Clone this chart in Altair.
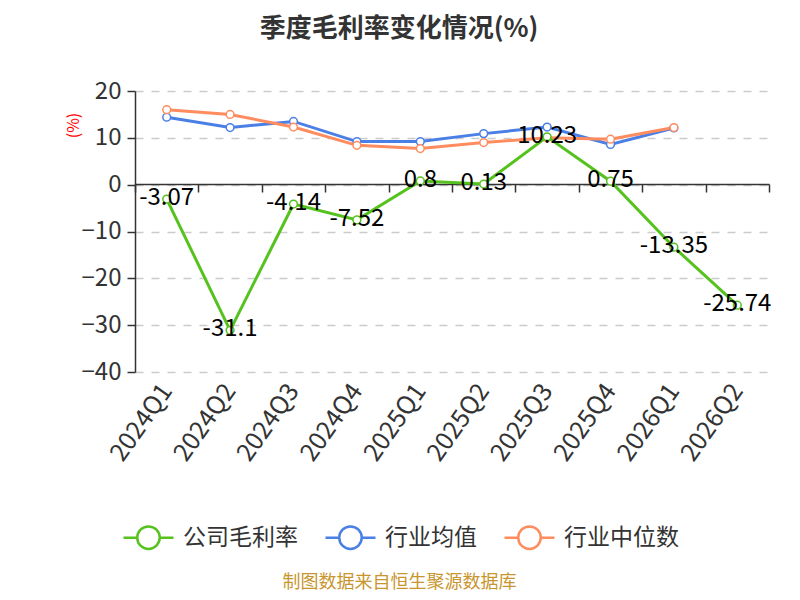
import altair as alt
import pandas as pd

quarters = ["2024Q1", "2024Q2", "2024Q3", "2024Q4", "2025Q1",
            "2025Q2", "2025Q3", "2025Q4", "2026Q1", "2026Q2"]
company = [-3.07, -31.1, -4.14, -7.52, 0.8, 0.13, 10.23, 0.75, -13.35, -25.74]
industry_avg = [14.4, 12.2, 13.5, 9.2, 9.2, 10.9, 12.3, 8.6, 12.1, None]
industry_median = [16.0, 15.0, 12.3, 8.4, 7.7, 9.0, 10.0, 9.7, 12.2, None]

series_names = ["公司毛利率", "行业均值", "行业中位数"]
series_colors = ["#55c21e", "#4a7fe6", "#ff8c5e"]

rows = []
for name, vals in zip(series_names, [company, industry_avg, industry_median]):
    for q, v in zip(quarters, vals):
        if v is not None:
            rows.append({"quarter": q, "value": v, "series": name, "label": str(v)})
df = pd.DataFrame(rows)

FONT = "Noto Sans CJK SC"

xscale = alt.Scale(type="band", domain=quarters, paddingInner=0, paddingOuter=0)
yscale = alt.Scale(domain=[-40, 20], nice=False, zero=False)
cscale = alt.Scale(domain=series_names, range=series_colors)

y_axis = alt.Axis(values=[-40, -30, -20, -10, 0, 10, 20], title="(%)",
                  titleColor="red", titleFontSize=16, titleFontWeight="normal",
                  titleAngle=270, titleX=-62, titleY=34, titleAlign="center",
                  titleBaseline="middle",
                  labelFontSize=24, labelColor="#333333", labelPadding=6,
                  domain=True, domainColor="#333333", domainWidth=1.5,
                  ticks=True, tickColor="#333333", tickSize=8, tickWidth=1.5,
                  grid=True, gridColor="#cccccc", gridDash=[8, 8], gridWidth=1.5)

x_label_axis = alt.Axis(domain=False, ticks=False, grid=False,
                        labelAngle=305, labelAlign="right", labelBaseline="middle",
                        labelFontSize=25, labelColor="#333333", labelPadding=14,
                        title="制图数据来自恒生聚源数据库", titleColor="#c8962e",
                        titleFontSize=18, titleFontWeight="normal",
                        titleX=264, titleY=210, titleAlign="center",
                        titleBaseline="middle")

x_tick_axis = alt.Axis(orient="bottom", offset=-188, labels=False, title=None,
                       grid=False, domain=True, domainColor="#333333",
                       domainWidth=1.5, ticks=True, tickColor="#333333",
                       tickSize=8, tickWidth=1.5, tickBand="extent")

legend = alt.Legend(title=None, orient="none", legendX=-13, legendY=420,
                    direction="horizontal",
                    symbolType="M-1,0L-0.45,0M0.45,0L1,0M-0.45,0A0.45,0.45,0,1,0,0.45,0A0.45,0.45,0,1,0,-0.45,0",
                    symbolSize=2500, symbolStrokeWidth=2.5, symbolFillColor="white",
                    labelFontSize=23, labelColor="#333333", labelOffset=8,
                    columnPadding=22)

base = alt.Chart(df)
industry = base.transform_filter(alt.datum.series != "公司毛利率")
comp = base.transform_filter(alt.datum.series == "公司毛利率")

ind_line = industry.mark_line(strokeWidth=3).encode(
    x=alt.X("quarter:N", scale=xscale, axis=x_label_axis, sort=quarters),
    y=alt.Y("value:Q", scale=yscale, axis=y_axis),
    color=alt.Color("series:N", scale=cscale, legend=legend),
)
ind_pts = industry.mark_point(filled=False, fill="white", fillOpacity=1,
                              size=60, strokeWidth=1.5, opacity=1).encode(
    x=alt.X("quarter:N", scale=xscale, axis=None, sort=quarters),
    y=alt.Y("value:Q", scale=yscale, axis=y_axis),
    color=alt.Color("series:N", scale=cscale, legend=legend),
)
comp_line = comp.mark_line(strokeWidth=3).encode(
    x=alt.X("quarter:N", scale=xscale, axis=None, sort=quarters),
    y=alt.Y("value:Q", scale=yscale, axis=y_axis),
    color=alt.Color("series:N", scale=cscale, legend=legend),
)
comp_pts = comp.mark_point(filled=False, fill="white", fillOpacity=1,
                           size=60, strokeWidth=1.5, opacity=1).encode(
    x=alt.X("quarter:N", scale=xscale, axis=None, sort=quarters),
    y=alt.Y("value:Q", scale=yscale, axis=y_axis),
    color=alt.Color("series:N", scale=cscale, legend=legend),
)
labels = comp.mark_text(fontSize=24, color="black", baseline="middle",
                        align="center", dy=-1, font=FONT).encode(
    x=alt.X("quarter:N", scale=xscale, axis=x_tick_axis, sort=quarters),
    y=alt.Y("value:Q", scale=yscale, axis=y_axis),
    text="label:N",
)

chart = alt.layer(ind_line, ind_pts, comp_line, comp_pts, labels).resolve_axis(
    x="independent"
).properties(
    width=634, height=281,
    autosize=alt.AutoSizeParams(type="none"),
    padding={"left": 127, "top": 83, "right": 23, "bottom": 220},
    title=alt.Title("季度毛利率变化情况(%)", fontSize=26, fontWeight="bold",
                    color="#333333", anchor="middle", dx=-53, offset=37,
                    font=FONT),
).configure(
    font=FONT
).configure_view(
    stroke=None
)

chart.save("out.html", embed_options={"renderer": "svg", "actions": False})
